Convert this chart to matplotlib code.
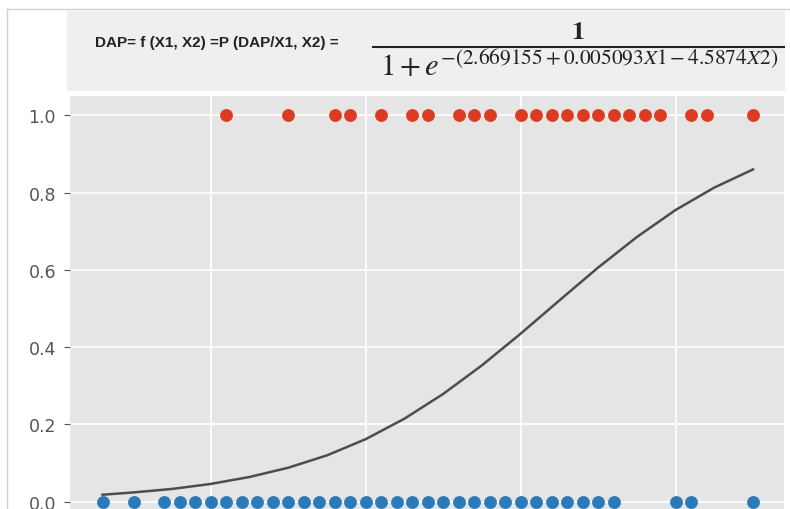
import matplotlib
matplotlib.use('Agg')
import matplotlib.pyplot as plt
from matplotlib.lines import Line2D
from matplotlib.patches import Rectangle

plt.style.use('ggplot')
plt.rcParams['mathtext.fontset'] = 'stix'

# observations with DAP = 1 (top row) and DAP = 0 (bottom row)
red_x = [110, 150, 180, 190, 210, 230, 240, 260, 270, 280, 300, 310, 320,
         330, 340, 350, 360, 370, 380, 390, 410, 420, 450]
blue_x = [30, 50, 70, 80, 90, 100, 110, 120, 130, 140, 150, 160, 170, 180,
          190, 200, 210, 220, 230, 240, 250, 260, 270, 280, 290, 300, 310,
          320, 330, 340, 350, 360, 400, 410, 450]

# fitted probability curve
curve_x = [30, 50, 75, 100, 125, 150, 175, 200, 225, 250, 275, 300, 325,
           350, 375, 400, 425, 450]
curve_p = [0.018, 0.024, 0.033, 0.046, 0.064, 0.088, 0.120, 0.162, 0.215,
           0.279, 0.353, 0.435, 0.521, 0.606, 0.685, 0.755, 0.813, 0.860]

y_ticks = [0.0, 0.2, 0.4, 0.6, 0.8, 1.0]
x_ticks = [100, 200, 300, 400]

W, H = 790, 510
fig = plt.figure(figsize=(W / 100, H / 100), dpi=100)
fig.patch.set_facecolor('white')

def fx(px):
    return px / W

def fy(py):
    return 1 - py / H

# axes extends below the figure edge, like the cropped screenshot
ax = fig.add_axes([fx(70), fy(522), (784 - 70) / W, (522 - 97) / H])
ax.set_facecolor('#e5e5e5')
ax.scatter(red_x, [1.0] * len(red_x), s=76, color='#dc3b22', zorder=3)
ax.scatter(blue_x, [0.0] * len(blue_x), s=76, color='#2a7ab9', zorder=3)
ax.plot(curve_x, curve_p, color='#4d4d4d', lw=1.8, zorder=2)

ax.set_xlim(9, 470)
ax.set_ylim(-0.05, 1.05)
ax.set_xticks(x_ticks)
ax.set_yticks(y_ticks)
ax.set_yticklabels([f'{v:.1f}' for v in y_ticks])
# x labels lie below the crop in the reference
ax.tick_params(axis='x', labelbottom=False, length=0)
ax.tick_params(axis='y', labelsize=12.5, labelcolor='#555555', color='#555555',
               length=4, pad=6)
ax.grid(True, color='white', lw=1.2)
for sp in ax.spines.values():
    sp.set_visible(False)

# screenshot borders
fig.add_artist(Line2D([fx(7), fx(7)], [0, fy(10)], color='#d0d0d0', lw=1))
fig.add_artist(Line2D([fx(7), 1], [fy(10), fy(10)], color='#d0d0d0', lw=1))

# formula banner
fig.add_artist(Rectangle((fx(67), fy(92)), (785 - 67) / W, (92 - 12) / H,
                         transform=fig.transFigure, facecolor='#efefef',
                         edgecolor='none'))
fig.text(fx(95), fy(43), 'DAP= f (X1, X2) =P (DAP/X1, X2) =',
         fontsize=11, fontweight='bold', family='Liberation Sans',
         color='#222222', va='center', ha='left')
fig.text(fx(578), fy(32), r'$\mathbf{1}$', fontsize=19, color='#222222',
         ha='center', va='center')
fig.add_artist(Line2D([fx(373), fx(784)], [fy(48), fy(48)], color='#222222',
                      lw=1.5))
fig.text(fx(579), fy(66), r'$1+e^{-(2.669155+0.005093X1-4.5874X2)}$',
         fontsize=22, color='#222222', ha='center', va='center')

fig.savefig('out.png', dpi=100)
